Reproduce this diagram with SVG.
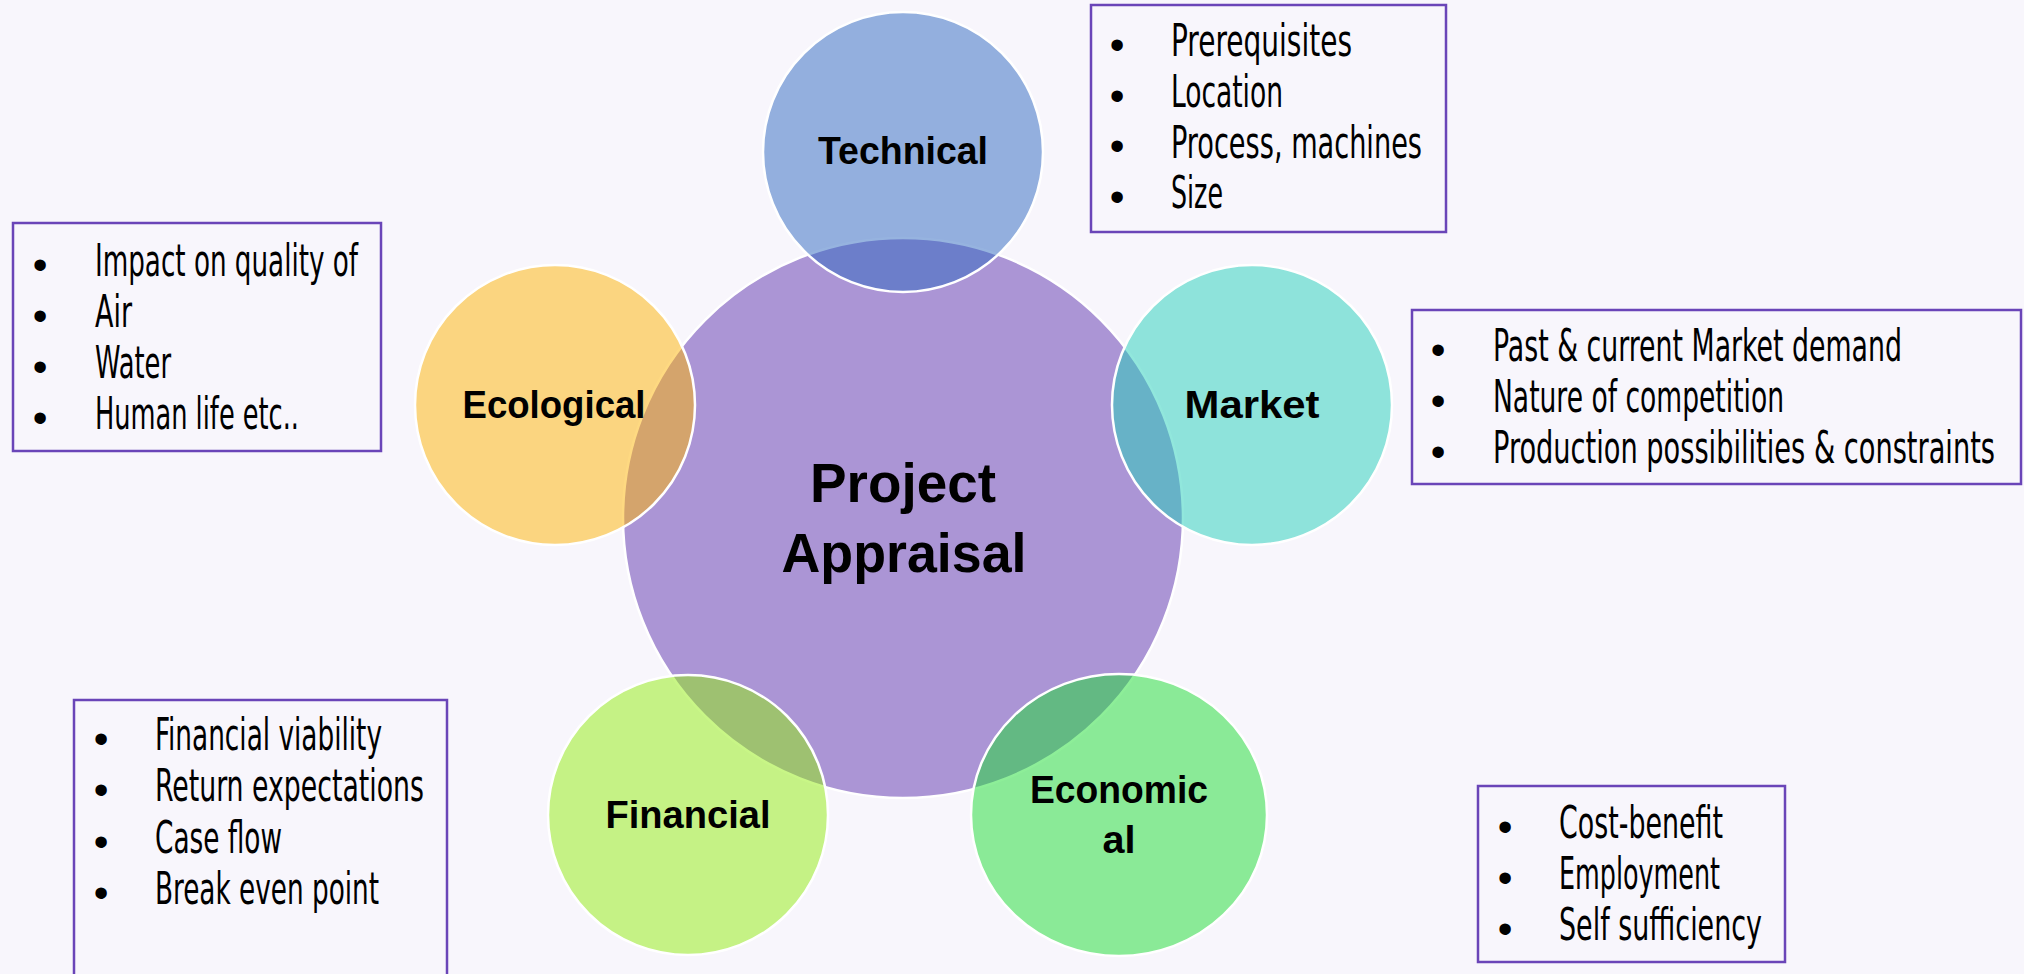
<svg xmlns="http://www.w3.org/2000/svg" width="2024" height="974" viewBox="0 0 2024 974">
<style>
.bg{fill:#F8F6FC}
.ring{stroke:#ffffff;stroke-width:2.5}
.lbl{font-family:"Liberation Sans",Arial,sans-serif;font-weight:bold;font-size:39px;fill:#000;text-anchor:middle}
.big{font-size:56px}
.box{fill:none;stroke:#6A45B8;stroke-width:2.5}
.item{font-family:"Liberation Sans Narrow","DejaVu Sans Condensed","Liberation Sans",sans-serif;font-size:44px;fill:#000}
.bul{font-family:"Liberation Sans",Arial,sans-serif;font-size:42px;fill:#000;text-anchor:middle}
</style>
<rect class="bg" x="0" y="0" width="2024" height="974"/>
<g id="connectors"/>
<g id="node-project">
<circle class="ring" cx="903" cy="518" r="280" fill="#AB95D5"/>
<text class="lbl big" x="903" y="502" textLength="186" lengthAdjust="spacingAndGlyphs">Project</text>
<text class="lbl big" x="904" y="572" textLength="245" lengthAdjust="spacingAndGlyphs">Appraisal</text>
</g>
<g id="node-technical">
<circle class="ring" cx="903" cy="152" r="140" fill="rgb(45,103,191)" fill-opacity="0.5"/>
<text class="lbl" x="903" y="164" textLength="170" lengthAdjust="spacingAndGlyphs">Technical</text>
</g>
<g id="node-ecological">
<circle class="ring" cx="555" cy="405" r="140" fill="rgb(253,179,3)" fill-opacity="0.5"/>
<text class="lbl" x="554" y="418" textLength="183" lengthAdjust="spacingAndGlyphs">Ecological</text>
</g>
<g id="node-market">
<circle class="ring" cx="1252" cy="405" r="140" fill="rgb(35,207,185)" fill-opacity="0.5"/>
<text class="lbl" x="1252" y="418" textLength="135" lengthAdjust="spacingAndGlyphs">Market</text>
</g>
<g id="node-financial">
<circle class="ring" cx="688" cy="815" r="140" fill="rgb(145,237,13)" fill-opacity="0.5"/>
<text class="lbl" x="688" y="828" textLength="165" lengthAdjust="spacingAndGlyphs">Financial</text>
</g>
<g id="node-economical">
<ellipse class="ring" cx="1119" cy="815" rx="148" ry="141" fill="rgb(27,221,49)" fill-opacity="0.5"/>
<text class="lbl" x="1119" y="803" textLength="178" lengthAdjust="spacingAndGlyphs">Economic</text>
<text class="lbl" x="1119" y="853" textLength="33" lengthAdjust="spacingAndGlyphs">al</text>
</g>
<g id="list-ecological">
<rect class="box" x="13" y="223" width="368" height="228"/>
<text class="bul" x="40" y="279">•</text>
<text class="bul" x="40" y="330">•</text>
<text class="bul" x="40" y="381">•</text>
<text class="bul" x="40" y="432">•</text>
<g transform="scale(0.75,1)">
<text class="item" x="126.67" y="276" textLength="350.67" lengthAdjust="spacingAndGlyphs">Impact on quality of</text>
<text class="item" x="126.67" y="327" textLength="49.33" lengthAdjust="spacingAndGlyphs">Air</text>
<text class="item" x="126.67" y="378" textLength="101.33" lengthAdjust="spacingAndGlyphs">Water</text>
<text class="item" x="126.67" y="429" textLength="272" lengthAdjust="spacingAndGlyphs">Human life etc..</text>
</g>
</g>
<g id="list-technical">
<rect class="box" x="1091" y="5" width="355" height="227"/>
<text class="bul" x="1117" y="59">•</text>
<text class="bul" x="1117" y="110">•</text>
<text class="bul" x="1117" y="160">•</text>
<text class="bul" x="1117" y="211">•</text>
<g transform="scale(0.75,1)">
<text class="item" x="1561.33" y="56" textLength="241.33" lengthAdjust="spacingAndGlyphs">Prerequisites</text>
<text class="item" x="1561.33" y="107" textLength="149.33" lengthAdjust="spacingAndGlyphs">Location</text>
<text class="item" x="1561.33" y="158" textLength="334.67" lengthAdjust="spacingAndGlyphs">Process, machines</text>
<text class="item" x="1561.33" y="208" textLength="69.33" lengthAdjust="spacingAndGlyphs">Size</text>
</g>
</g>
<g id="list-market">
<rect class="box" x="1412" y="310" width="609" height="174"/>
<text class="bul" x="1438" y="364">•</text>
<text class="bul" x="1438" y="415">•</text>
<text class="bul" x="1438" y="466">•</text>
<g transform="scale(0.55,1)">
<text class="item" x="2714.55" y="361" textLength="743.64" lengthAdjust="spacingAndGlyphs">Past &amp; current Market demand</text>
<text class="item" x="2714.55" y="412" textLength="529.09" lengthAdjust="spacingAndGlyphs">Nature of competition</text>
<text class="item" x="2714.55" y="463" textLength="912.73" lengthAdjust="spacingAndGlyphs">Production possibilities &amp; constraints</text>
</g>
</g>
<g id="list-financial">
<rect class="box" x="74" y="700" width="373" height="290"/>
<text class="bul" x="101" y="753">•</text>
<text class="bul" x="101" y="804">•</text>
<text class="bul" x="101" y="856">•</text>
<text class="bul" x="101" y="907">•</text>
<g transform="scale(0.75,1)">
<text class="item" x="206.67" y="750" textLength="302.67" lengthAdjust="spacingAndGlyphs">Financial viability</text>
<text class="item" x="206.67" y="801" textLength="358.67" lengthAdjust="spacingAndGlyphs">Return expectations</text>
<text class="item" x="206.67" y="853" textLength="169.33" lengthAdjust="spacingAndGlyphs">Case flow</text>
<text class="item" x="206.67" y="904" textLength="298.67" lengthAdjust="spacingAndGlyphs">Break even point</text>
</g>
</g>
<g id="list-economical">
<rect class="box" x="1478" y="786" width="307" height="176"/>
<text class="bul" x="1505" y="841">•</text>
<text class="bul" x="1505" y="892">•</text>
<text class="bul" x="1505" y="943">•</text>
<g transform="scale(0.75,1)">
<text class="item" x="2078.67" y="838" textLength="218.67" lengthAdjust="spacingAndGlyphs">Cost-benefit</text>
<text class="item" x="2078.67" y="889" textLength="214.67" lengthAdjust="spacingAndGlyphs">Employment</text>
<text class="item" x="2078.67" y="940" textLength="270.67" lengthAdjust="spacingAndGlyphs">Self sufficiency</text>
</g>
</g>
</svg>
